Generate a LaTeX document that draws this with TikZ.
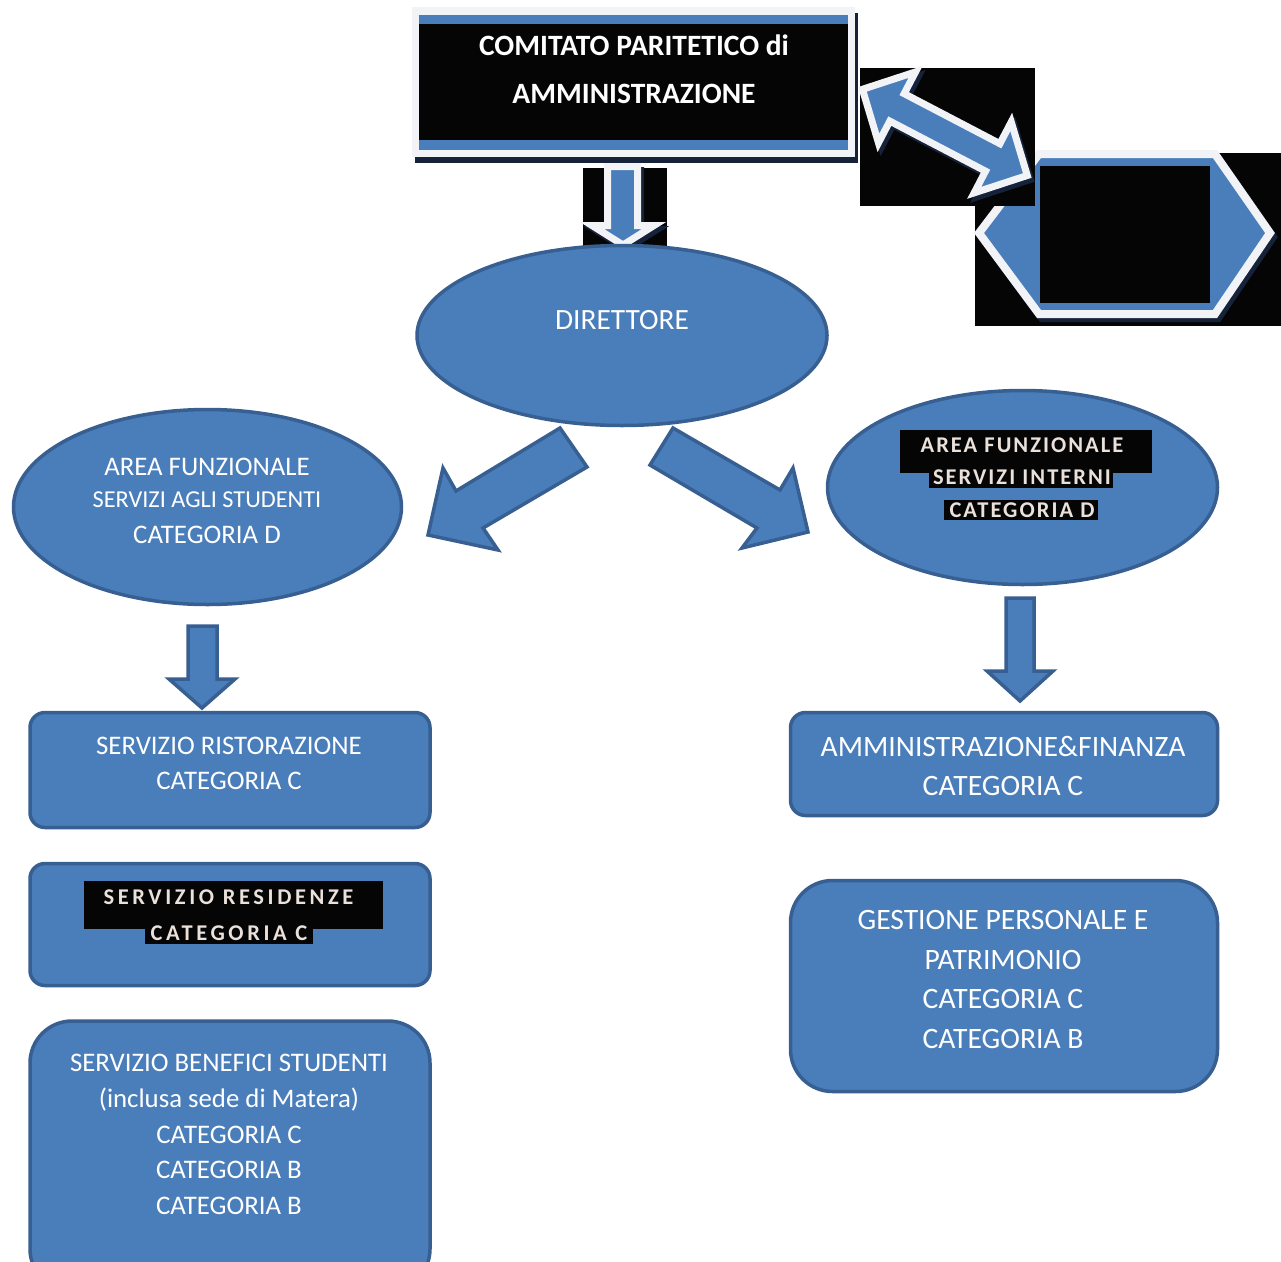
\documentclass[tikz,border=0pt]{standalone}
\usepackage{fontspec}
\setmainfont{Carlito}
\newfontfamily\spfont{Carlito}[LetterSpace=9, BoldFont={Carlito Bold}]
\newfontfamily\spwidefont{Carlito}[LetterSpace=16, BoldFont={Carlito Bold}]
\usetikzlibrary{shapes.geometric}
\definecolor{fillblue}{HTML}{4A7EBB}
\definecolor{edgeblue}{HTML}{385F91}
\definecolor{lightedge}{HTML}{F1F3F6}
\definecolor{shadowdark}{HTML}{16213A}
\definecolor{blk}{HTML}{050505}
\definecolor{hltext}{HTML}{EBE1DB}
\tikzset{
  blueshape/.style={fill=fillblue, draw=edgeblue, line width=3.5pt},
  ell/.style={blueshape, ellipse, inner sep=0pt},
  rbox/.style={blueshape, rectangle, inner sep=0pt},
  txt/.style={text=white, align=center, inner sep=0pt},
  hltxt/.style={text=hltext, align=center, inner sep=0pt, font=\fontsize{22.5}{28}\spfont\bfseries},
  hlwidetxt/.style={text=hltext, align=center, inner sep=0pt, font=\fontsize{22.5}{28}\spwidefont\bfseries},
  hlrect/.style={fill=blk, draw=none},
  lightarrow/.style={fill=fillblue, draw=lightedge, line width=7pt, line join=miter},
  shadowarrow/.style={fill=shadowdark, draw=shadowdark, line width=7pt, line join=miter},
  blackbg/.style={fill=blk, draw=none}
}
\begin{document}
\begin{tikzpicture}[x=1pt, y=-1pt, line join=miter]
\clip (0,0) rectangle (1281,1261);
\fill[white] (0,0) rectangle (1281,1261);

% ---- top box
\fill[shadowdark] (415,13) rectangle (858,163);
\fill[lightedge] (412,7) rectangle (855,157);
\fill[fillblue] (419,15) rectangle (848,150);
\fill[blk] (419,24) rectangle (848,140);
\node[txt, font=\fontsize{29.5}{48}\selectfont\bfseries] (comitato) at (634,69)
  {COMITATO PARITETICO di\\AMMINISTRAZIONE};

% ---- top down arrow
\fill[blk] (583,168) rectangle (667,254);
\draw[shadowarrow] (610.5,170.5) -- (640.5,170.5) -- (640.5,229.5) -- (657,229.5) -- (626,249) -- (595,229.5) -- (610.5,229.5) -- cycle;
\draw[lightarrow] (607.5,166.5) -- (637.5,166.5) -- (637.5,225.5) -- (654,225.5) -- (623,245) -- (592,225.5) -- (607.5,225.5) -- cycle;

% ---- hexagon
\fill[blk] (975,153) rectangle (1281,326);
\draw[fill=shadowdark, draw=shadowdark, line width=8pt] (1042,158) -- (1218,158) -- (1273,237) -- (1218,318) -- (1042,318) -- (982,237) -- cycle;
\draw[fill=fillblue, draw=lightedge, line width=8pt] (1039,154) -- (1215,154) -- (1270,233) -- (1215,314) -- (1039,314) -- (979,233) -- cycle;
\fill[blk] (1040,166) rectangle (1210,303);

% ---- double arrow
\fill[blk] (860,68) rectangle (1035,206);
\begin{scope}[shift={(861,91)}, rotate=-27.6]
\draw[shadowarrow] (5,0) -- (44,-40) -- (44,-15.5) -- (152,-15.5) -- (152,-40) -- (191,0) -- (152,40) -- (152,15.5) -- (44,15.5) -- (44,40) -- cycle;
\end{scope}
\begin{scope}[shift={(858,87)}, rotate=-27.6]
\draw[lightarrow] (5,0) -- (44,-40) -- (44,-15.5) -- (152,-15.5) -- (152,-40) -- (191,0) -- (152,40) -- (152,15.5) -- (44,15.5) -- (44,40) -- cycle;
\end{scope}

% ---- direttore
\node[ell, minimum width=410pt, minimum height=180pt] (dir) at (622,335.5) {};
\node[txt, font=\fontsize{29.4}{35}\selectfont] (dirtxt) at (622,320) {DIRETTORE};

% ---- diagonal arrows
\draw[blueshape] (560,428) -- (587,467) -- (483,528) -- (498,550) -- (428,535) -- (443,468) -- (456,491) -- cycle;
\draw[blueshape] (673,428) -- (780,490) -- (793,468) -- (808,532) -- (742,548) -- (757,528) -- (650,465) -- cycle;

% ---- left ellipse
\node[ell, minimum width=388pt, minimum height=195pt] (areastud) at (207.5,507) {};
\node[txt, font=\fontsize{26.8}{30}\selectfont] (as1) at (207,467) {AREA FUNZIONALE};
\node[txt, font=\fontsize{24.3}{30}\selectfont] (as2) at (207,500) {SERVIZI AGLI STUDENTI};
\node[txt, font=\fontsize{26.8}{30}\selectfont] (as3) at (207,535) {CATEGORIA D};

% ---- right ellipse
\node[ell, minimum width=390pt, minimum height=194pt] (areaint) at (1022.5,487.5) {};
\fill[hlrect] (900,430) rectangle (1152,473);
\fill[hlrect] (929,473) rectangle (1113,488);
\fill[hlrect] (944,500) rectangle (1098,520);
\node[hltxt] (ai1) at (1022,445.5) {AREA FUNZIONALE};
\node[hltxt] (ai2) at (1022,477.5) {SERVIZI INTERNI};
\node[hltxt] (ai3) at (1022,510.5) {CATEGORIA D};

% ---- down arrows
\draw[blueshape] (188,626) -- (217,626) -- (217,679) -- (235,679) -- (202,708) -- (169,679) -- (188,679) -- cycle;
\draw[blueshape] (1006,598) -- (1034,598) -- (1034,671) -- (1053,671) -- (1020,701) -- (987,671) -- (1006,671) -- cycle;

% ---- left boxes
\node[rbox, rounded corners=15pt, minimum width=400pt, minimum height=115pt] (ristor) at (230,770) {};
\node[txt, font=\fontsize{26.8}{35}\selectfont] (ristortxt) at (229,763.5) {SERVIZIO RISTORAZIONE\\CATEGORIA C};

\node[rbox, rounded corners=15pt, minimum width=400pt, minimum height=122pt] (resid) at (230,924.5) {};
\fill[hlrect] (84,881) rectangle (383,929);
\fill[hlrect] (145,929) rectangle (313,944);
\node[hlwidetxt] (res1) at (228.5,897.5) {SERVIZIO RESIDENZE};
\node[hlwidetxt] (res2) at (229,933.5) {CATEGORIA C};

\node[rbox, rounded corners=42pt, minimum width=400pt, minimum height=270pt] (benef) at (230,1156) {};
\node[txt, font=\fontsize{26.8}{35.8}\selectfont] (beneftxt) at (229,1134.5)
  {SERVIZIO BENEFICI STUDENTI\\(inclusa sede di Matera)\\CATEGORIA C\\CATEGORIA B\\CATEGORIA B};

% ---- right boxes
\node[rbox, rounded corners=15pt, minimum width=427pt, minimum height=103pt] (amm) at (1004,764) {};
\node[txt, font=\fontsize{29.6}{39}\selectfont] (ammtxt) at (1003,765.5) {AMMINISTRAZIONE\&FINANZA\\CATEGORIA C};

\node[rbox, rounded corners=42pt, minimum width=427pt, minimum height=211pt] (gest) at (1004,986) {};
\node[txt, font=\fontsize{29.6}{39.7}\selectfont] (gesttxt) at (1003,979.5)
  {GESTIONE PERSONALE E\\PATRIMONIO\\CATEGORIA C\\CATEGORIA B};
\end{tikzpicture}
\end{document}
